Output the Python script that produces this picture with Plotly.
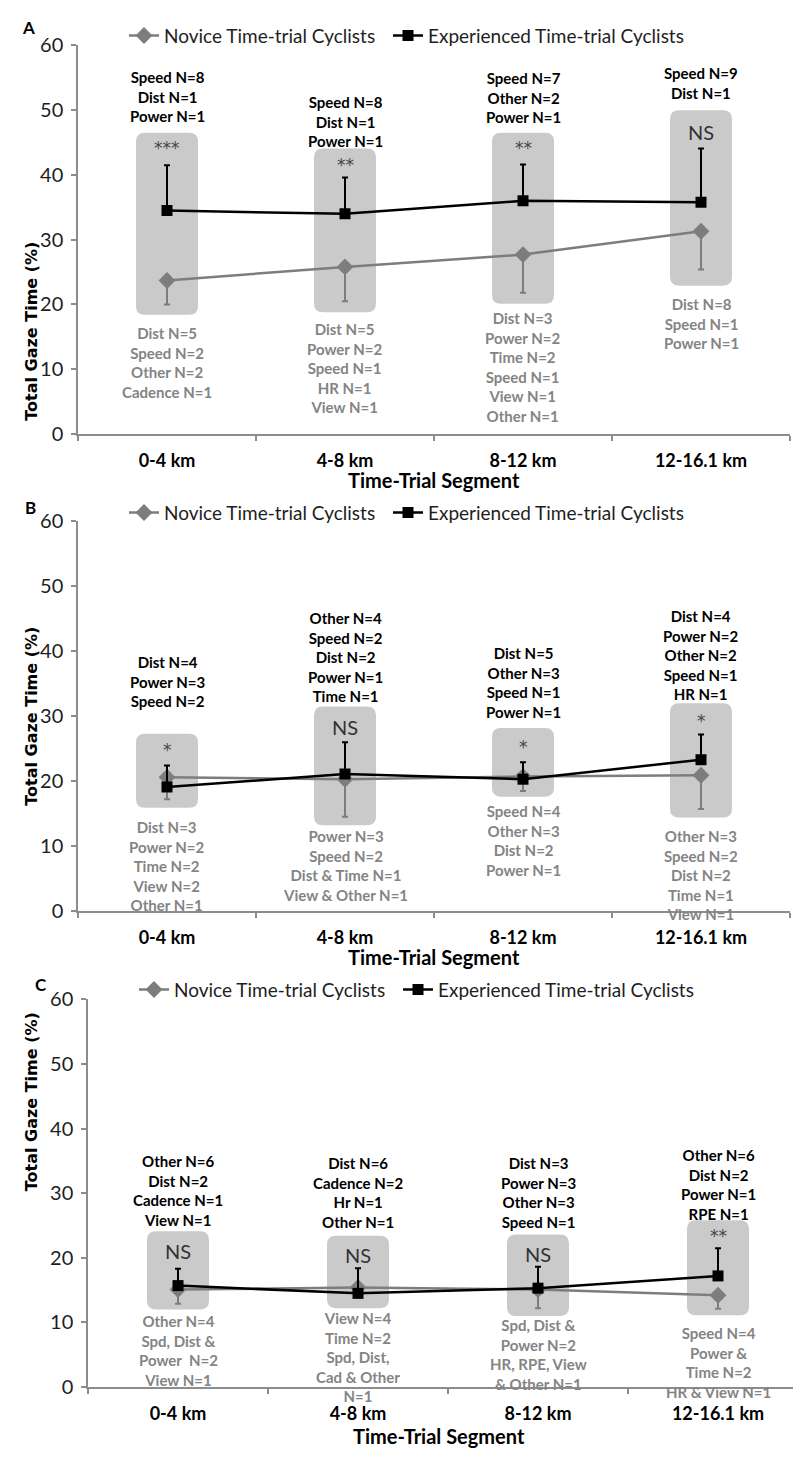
import plotly.graph_objects as go

# ---------------- data ----------------
categories = ["0-4 km", "4-8 km", "8-12 km", "12-16.1 km"]
series_names = ["Novice Time-trial Cyclists", "Experienced Time-trial Cyclists"]

# Panel A
novice_A = [23.7, 25.8, 27.7, 31.3]
novice_A_err = [3.7, 5.3, 5.9, 5.9]
exp_A = [34.5, 34.0, 36.0, 35.8]
exp_A_err = [7.0, 5.6, 5.6, 8.3]
box_A_low = [18.4, 18.8, 20.1, 22.9]
box_A_high = [46.5, 44.1, 46.5, 50.0]
sig_A = ["***", "**", "**", "NS"]
sig_A_y = [44.1, 41.5, 44.1, 46.7]
top_A = [["Speed N=8", "Dist N=1", "Power N=1"],
         ["Speed N=8", "Dist N=1", "Power N=1"],
         ["Speed N=7", "Other N=2", "Power N=1"],
         ["Speed N=9", "Dist N=1"]]
bot_A = [["Dist N=5", "Speed N=2", "Other N=2", "Cadence N=1"],
         ["Dist N=5", "Power N=2", "Speed N=1", "HR N=1", "View N=1"],
         ["Dist N=3", "Power N=2", "Time N=2", "Speed N=1", "View N=1", "Other N=1"],
         ["Dist N=8", "Speed N=1", "Power N=1"]]
top_A_y = [52.1, 48.2, 52.0, 54.2]
bot_A_y = [11.1, 10.25, 10.3, 17.0]

# Panel B
novice_B = [20.6, 20.3, 20.7, 20.9]
novice_B_err = [3.4, 5.8, 2.2, 5.2]
exp_B = [19.1, 21.1, 20.3, 23.3]
exp_B_err = [3.3, 4.9, 2.6, 3.9]
box_B_low = [15.9, 13.2, 17.6, 14.4]
box_B_high = [27.3, 31.5, 28.2, 32.0]
sig_B = ["*", "NS", "*", "*"]
sig_B_y = [24.8, 28.3, 25.3, 29.2]
top_B = [["Dist N=4", "Power N=3", "Speed N=2"],
         ["Other N=4", "Speed N=2", "Dist N=2", "Power N=1", "Time N=1"],
         ["Dist N=5", "Other N=3", "Speed N=1", "Power N=1"],
         ["Dist N=4", "Power N=2", "Other N=2", "Speed N=1", "HR N=1"]]
bot_B = [["Dist N=3", "Power N=2", "Time N=2", "View N=2", "Other N=1"],
         ["Power N=3", "Speed N=2", "Dist & Time N=1", "View & Other N=1"],
         ["Speed N=4", "Other N=3", "Dist N=2", "Power N=1"],
         ["Other N=3", "Speed N=2", "Dist N=2", "Time N=1", "View N=1"]]
top_B_y = [35.3, 39.2, 35.2, 39.5]
bot_B_y = [7.0, 7.0, 10.8, 5.5]

# Panel C
novice_C = [15.1, 15.4, 15.1, 14.2]
novice_C_err = [2.2, 1.5, 2.9, 2.1]
exp_C = [15.7, 14.5, 15.3, 17.2]
exp_C_err = [2.6, 3.9, 3.3, 4.3]
box_C_low = [12.0, 12.2, 11.0, 11.1]
box_C_high = [24.1, 23.4, 23.6, 25.8]
sig_C = ["NS", "NS", "NS", "**"]
sig_C_y = [21.0, 20.4, 20.6, 23.4]
top_C = [["Other N=6", "Dist N=2", "Cadence N=1", "View N=1"],
         ["Dist N=6", "Cadence N=2", "Hr N=1", "Other N=1"],
         ["Dist N=3", "Power N=3", "Other N=3", "Speed N=1"],
         ["Other N=6", "Dist N=2", "Power N=1", "RPE N=1"]]
bot_C = [["Other N=4", "Spd, Dist &", "Power  N=2", "View N=1"],
         ["View N=4", "Time N=2", "Spd, Dist,", "Cad & Other", "N=1"],
         ["Spd, Dist &", "Power N=2", "HR, RPE, View", "& Other N=1"],
         ["Speed N=4", "Power &", "Time N=2", "HR & View N=1"]]
top_C_y = [30.4, 30.1, 30.1, 31.4]
bot_C_y = [5.7, 4.6, 5.1, 3.8]

# ---------------- style ----------------
W, H = 793, 1458
FONT = "Lato, Roboto, sans-serif"
GRAY_LINE = "rgb(125,125,125)"
BOX_COL = "rgb(202,202,202)"
TXT_GRAY = "rgb(132,132,132)"
AX_COL = "rgb(140,140,140)"

panels = [
    dict(name="A", nov=novice_A, nerr=novice_A_err, exp=exp_A, eerr=exp_A_err,
         blo=box_A_low, bhi=box_A_high, sig=sig_A, sigy=sig_A_y, top=top_A, bot=bot_A,
         topy=top_A_y, boty=bot_A_y, left=78, ytop=33, ybot=428, cw=178,
         letter_xy=(20, 15), title_y=475, legend_y=23, leg_x=(124, 388)),
    dict(name="B", nov=novice_B, nerr=novice_B_err, exp=exp_B, eerr=exp_B_err,
         blo=box_B_low, bhi=box_B_high, sig=sig_B, sigy=sig_B_y, top=top_B, bot=bot_B,
         topy=top_B_y, boty=bot_B_y, left=78, ytop=517, ybot=913, cw=178,
         letter_xy=(23, 503), title_y=960, legend_y=508, leg_x=(124, 388)),
    dict(name="C", nov=novice_C, nerr=novice_C_err, exp=exp_C, eerr=exp_C_err,
         blo=box_C_low, bhi=box_C_high, sig=sig_C, sigy=sig_C_y, top=top_C, bot=bot_C,
         topy=top_C_y, boty=bot_C_y, left=88, ytop=1003, ybot=1397, cw=180,
         letter_xy=(33, 988), title_y=1447, legend_y=993, leg_x=(134, 398)),
]

xs = list(range(len(categories)))
fig = go.Figure()
shapes = []
annotations = []
layout_axes = {}

for i, p in enumerate(panels):
    sfx = "" if i == 0 else str(i + 1)
    xa, ya = "x" + sfx, "y" + sfx
    leg_n = "legend" + ("" if i == 0 else str(2 * i + 1))
    leg_e = "legend" + str(2 * i + 2)
    fig.add_trace(go.Scatter(
        x=xs, y=p["nov"], xaxis=xa, yaxis=ya, name=series_names[0], legend=leg_n,
        mode="lines+markers", line=dict(color=GRAY_LINE, width=2.5),
        marker=dict(symbol="diamond", size=13, color=GRAY_LINE),
        error_y=dict(type="data", symmetric=False, array=[0] * 4, arrayminus=p["nerr"],
                     color=GRAY_LINE, thickness=2, width=3)))
    fig.add_trace(go.Scatter(
        x=xs, y=p["exp"], xaxis=xa, yaxis=ya, name=series_names[1], legend=leg_e,
        mode="lines+markers", line=dict(color="black", width=2.5),
        marker=dict(symbol="square", size=11, color="black"),
        error_y=dict(type="data", symmetric=False, array=p["eerr"], arrayminus=[0] * 4,
                     color="black", thickness=2, width=3)))

    x_right = min(-0.5 + (W - p["left"]) / p["cw"], 3.5)
    dom_right = (p["left"] + (x_right + 0.5) * p["cw"]) / W
    layout_axes["xaxis" + sfx] = dict(
        domain=[p["left"] / W, min(dom_right, 1.0)], range=[-0.5, x_right], anchor=ya,
        showline=True, linecolor=AX_COL, linewidth=1.5, showgrid=False, zeroline=False,
        tickvals=xs, ticktext=categories, ticks="",
        tickfont=dict(family=FONT, size=18, color="black", weight="bold"),
        ticklabelstandoff=10,
        minor=dict(tickvals=[-0.5, 0.5, 1.5, 2.5, 3.5], ticks="outside", ticklen=5,
                   tickcolor=AX_COL, tickwidth=1.5),
        fixedrange=True)
    layout_axes["yaxis" + sfx] = dict(
        domain=[1 - p["ybot"] / H, 1 - p["ytop"] / H], range=[0, 60], anchor=xa,
        showline=True, linecolor=AX_COL, linewidth=1.5, showgrid=False, zeroline=False,
        dtick=10, ticks="outside", ticklen=5, tickcolor=AX_COL, tickwidth=1.5,
        tickfont=dict(family=FONT, size=20, color="rgb(30,30,30)"), ticklabelstandoff=4,
        fixedrange=True)

    px_per_y = (p["ybot"] - p["ytop"]) / 60.0
    rad = 9
    rx, ry = rad / p["cw"], rad / px_per_y
    hw = 31 / p["cw"]
    for k in xs:
        x0, x1 = k - hw, k + hw
        y0, y1 = p["blo"][k], p["bhi"][k]
        path = (f"M {x0+rx},{y0} L {x1-rx},{y0} Q {x1},{y0} {x1},{y0+ry} "
                f"L {x1},{y1-ry} Q {x1},{y1} {x1-rx},{y1} L {x0+rx},{y1} "
                f"Q {x0},{y1} {x0},{y1-ry} L {x0},{y0+ry} Q {x0},{y0} {x0+rx},{y0} Z")
        shapes.append(dict(type="path", path=path, xref=xa, yref=ya, fillcolor=BOX_COL,
                           line=dict(width=0), layer="below"))
        s = p["sig"][k]
        if s == "NS":
            sfont = dict(family=FONT, size=20, color="rgb(50,50,50)")
        else:
            sfont = dict(family="DejaVu Sans", size=17, color="rgb(70,70,70)")
        annotations.append(dict(x=k, y=p["sigy"][k], xref=xa, yref=ya, text=s,
                                showarrow=False, yanchor="middle", font=sfont))
        annotations.append(dict(x=k, y=p["topy"][k], xref=xa, yref=ya,
                                text="<br>".join("<b>" + t + "</b>" for t in p["top"][k]),
                                showarrow=False, yanchor="middle", align="center",
                                font=dict(family=FONT, size=15, color="black")))
        annotations.append(dict(x=k, y=p["boty"][k], xref=xa, yref=ya,
                                text="<br>".join("<b>" + t + "</b>" for t in p["bot"][k]),
                                showarrow=False, yanchor="middle", align="center",
                                font=dict(family=FONT, size=15, color=TXT_GRAY)))

    mid_y = 1 - (p["ytop"] + p["ybot"]) / 2 / H
    annotations.append(dict(x=20 / W, y=mid_y, xref="paper", yref="paper",
                            text="<b>Total Gaze Time (%)</b>", textangle=-90,
                            showarrow=False, font=dict(family="DejaVu Sans", size=16,
                                                        color="black")))
    annotations.append(dict(x=(p["left"] + 790) / 2 / W, y=1 - p["title_y"] / H,
                            xref="paper", yref="paper", text="<b>Time-Trial Segment</b>",
                            showarrow=False, yanchor="middle",
                            font=dict(family=FONT, size=20, color="black")))
    lx, ly = p["letter_xy"]
    annotations.append(dict(x=lx / W, y=1 - ly / H, xref="paper", yref="paper",
                            text="<b>" + p["name"] + "</b>", showarrow=False,
                            yanchor="middle", font=dict(family=FONT, size=17, color="black")))
    for leg, lxp in zip((leg_n, leg_e), p["leg_x"]):
        layout_axes[leg] = dict(orientation="h", x=lxp / W, xanchor="left",
                                y=1 - p["legend_y"] / H, yanchor="middle",
                                font=dict(family=FONT, size=19, color="rgb(30,30,30)"),
                                bgcolor="rgba(0,0,0,0)", itemwidth=30, borderwidth=0)

fig.update_layout(
    width=W, height=H, margin=dict(l=0, r=0, t=0, b=0),
    paper_bgcolor="white", plot_bgcolor="white",
    shapes=shapes, annotations=annotations, showlegend=True,
    **layout_axes)

fig.write_html("out.html", config={"displayModeBar": False},
               post_script="document.body.style.margin='0px';")
